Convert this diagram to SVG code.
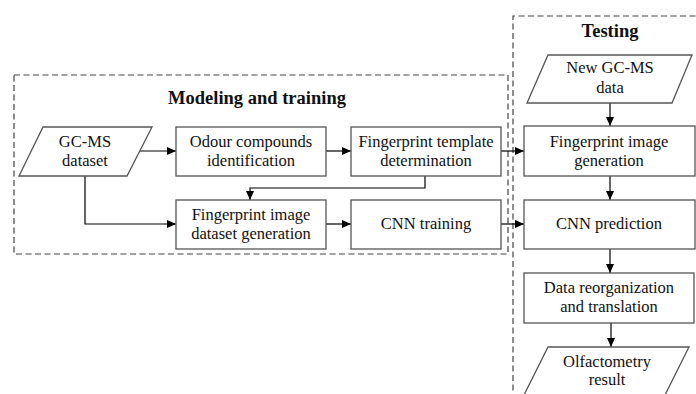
<svg xmlns="http://www.w3.org/2000/svg" width="696" height="394" viewBox="0 0 696 394">
<defs>
<marker id="ah" markerWidth="9" markerHeight="8" refX="9" refY="4" orient="auto" markerUnits="userSpaceOnUse">
<path d="M0,0 L9,4 L0,8 Z" fill="#000"/>
</marker>
<style>
.box{fill:#fff;stroke:#555;stroke-width:1.3}
.grp{fill:none;stroke:#444;stroke-width:1.2;stroke-dasharray:6 3.5}
text{font-family:'Liberation Serif','Times New Roman',Times,serif}
.t{font-size:16.5px;fill:#111;text-anchor:middle}
.h{font-size:18.5px;font-weight:bold;fill:#111;text-anchor:middle}
.c{fill:none;stroke:#000;stroke-width:1.2}
</style>
</defs>
<rect width="696" height="394" fill="#fff"/>
<g id="group-modeling">
<rect class="grp" x="14" y="75" width="494" height="179"/>
<text class="h" x="257" y="104">Modeling and training</text>
</g>
<g id="group-testing">
<path class="grp" d="M513,400 L513,16 L700,16"/>
<text class="h" x="610" y="37">Testing</text>
</g>
<g id="connectors">
<line class="c" x1="140" y1="151" x2="176" y2="151" marker-end="url(#ah)"/>
<line class="c" x1="326" y1="151" x2="351" y2="151" marker-end="url(#ah)"/>
<line class="c" x1="501" y1="151" x2="524" y2="151" marker-end="url(#ah)"/>
<polyline class="c" points="85,176 85,224 176,224" marker-end="url(#ah)"/>
<polyline class="c" points="425,176 425,188 250,188 250,200" marker-end="url(#ah)"/>
<line class="c" x1="326" y1="224" x2="351" y2="224" marker-end="url(#ah)"/>
<line class="c" x1="501" y1="224" x2="524" y2="224" marker-end="url(#ah)"/>
<line class="c" x1="610" y1="103" x2="610" y2="126" marker-end="url(#ah)"/>
<line class="c" x1="610" y1="176" x2="610" y2="200" marker-end="url(#ah)"/>
<line class="c" x1="610" y1="249" x2="610" y2="273" marker-end="url(#ah)"/>
<line class="c" x1="611" y1="323" x2="611" y2="347" marker-end="url(#ah)"/>
</g>
<g id="gcms-dataset">
<polygon class="box" points="43,127 152,127 127,176 19,176"/>
<text class="t" x="85" y="147">GC-MS</text>
<text class="t" x="85" y="166">dataset</text>
</g>
<g id="odour-compounds">
<rect class="box" x="176" y="127" width="150" height="49"/>
<text class="t" x="251" y="147">Odour compounds</text>
<text class="t" x="251" y="166">identification</text>
</g>
<g id="fingerprint-template">
<rect class="box" x="351" y="127" width="150" height="49"/>
<text class="t" x="426" y="147">Fingerprint template</text>
<text class="t" x="426" y="166">determination</text>
</g>
<g id="fingerprint-dataset">
<rect class="box" x="176" y="200" width="150" height="49"/>
<text class="t" x="251" y="220">Fingerprint image</text>
<text class="t" x="251" y="239">dataset generation</text>
</g>
<g id="cnn-training">
<rect class="box" x="351" y="200" width="150" height="49"/>
<text class="t" x="426" y="229">CNN training</text>
</g>
<g id="new-gcms">
<polygon class="box" points="548,55 692,55 672,103 527,103"/>
<text class="t" x="610" y="73">New GC-MS</text>
<text class="t" x="610" y="93">data</text>
</g>
<g id="fingerprint-image">
<rect class="box" x="524" y="126" width="171" height="50"/>
<text class="t" x="609" y="147">Fingerprint image</text>
<text class="t" x="609" y="166">generation</text>
</g>
<g id="cnn-prediction">
<rect class="box" x="524" y="200" width="171" height="49"/>
<text class="t" x="609" y="229">CNN prediction</text>
</g>
<g id="data-reorg">
<rect class="box" x="524" y="273" width="170" height="50"/>
<text class="t" x="609" y="293">Data reorganization</text>
<text class="t" x="609" y="312">and translation</text>
</g>
<g id="olfactometry">
<polygon class="box" points="548,347 689,347 664,397 523,397"/>
<text class="t" x="607" y="367">Olfactometry</text>
<text class="t" x="607" y="385">result</text>
</g>
</svg>
